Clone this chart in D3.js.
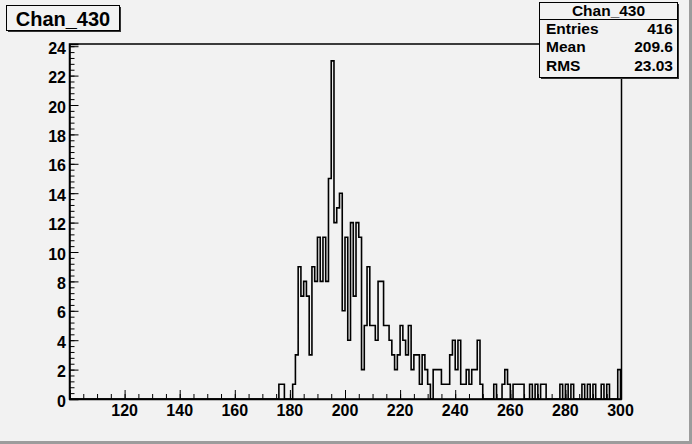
<!DOCTYPE html>
<html><head><meta charset="utf-8">
<script src="https://cdn.jsdelivr.net/npm/d3@7"></script>
<style>
html,body{margin:0;padding:0;background:#f2f2f2;}
svg{display:block;}
text{font-family:"Liberation Sans",Arial,Helvetica,sans-serif;font-weight:bold;fill:#000;}
</style></head>
<body><svg id="c" width="692" height="444"></svg>
<script>
// ---- data ----
const histName = "Chan_430";
const xDomain = [100, 300];
const firstBin = 174;           // low edge of first listed bin, bin width 1
const counts = [
  0,0,1,1,0,0,0,1,3,9,7,8,7,3,9,8,11,8,11,8,15,23,12,13,14,6,   // 174-199
  11,4,12,7,12,11,2,5,9,5,5,4,8,8,5,5,4,3,2,3,5,4,3,5,2,3,3,1,3,2,1,0,2,2,2,1,1,1,3,4,2,4,1,1,2,1,2,2,4,1, // 200-249
  0,0,0,0,1,0,0,1,2,1,0,1,1,1,1,0,0,1,0,1,0,1,1,0,0,0,0,0,1,0,1,0,1,0,0,0,1,0,1,0,1,0,0,1,0,1,0,0,0,2  // 250-299
];
const xLabels = [120,140,160,180,200,220,240,260,280,300];
const yLabels = [0,2,4,6,8,10,12,14,16,18,20,22,24];
const statLabels = ["Entries","Mean","RMS"];
const statValues = ["416","209.6","23.03"];

// ---- layout ----
const svg = d3.select("#c");
const W = 692, H = 444;
const L = 69.5, R = 620.5, T = 44, B = 399;
const yMax = d3.max(counts) * 1.05;
const x = d3.scaleLinear().domain(xDomain).range([L, R]);
const y = d3.scaleLinear().domain([0, yMax]).range([B, T]);

svg.append("rect").attr("width", W).attr("height", H).attr("fill", "#f2f2f2");
// canvas border
svg.append("rect").attr("x", W-3).attr("y", 0).attr("width", 3).attr("height", H).attr("fill", "#9c9c9c");
svg.append("rect").attr("x", 0).attr("y", H-3).attr("width", W).attr("height", 3).attr("fill", "#9c9c9c");

// frame
svg.append("rect").attr("x", L).attr("y", T).attr("width", x(300)+1-L).attr("height", B-T)
  .attr("fill", "none").attr("stroke", "#000").attr("stroke-width", 1.5);

// histogram
const pts = counts.map((c, i) => [firstBin + i, c]);
const last = firstBin + counts.length;
pts.push([last, counts[counts.length-1]]);
pts.unshift([xDomain[0], 0]);
pts.push([last, 0]);
const line = d3.line().x(d => x(d[0])).y(d => y(d[1])).curve(d3.curveStepAfter);
svg.append("path").attr("d", line(pts)).attr("fill", "none")
  .attr("stroke", "#000").attr("stroke-width", 1.6);

// x axis
const gx = svg.append("g").attr("transform", `translate(0,${B})`);
gx.call(d3.axisBottom(x).tickValues(d3.range(100, 300.01, 5)).tickSize(-5).tickFormat(""));
gx.call(g => g.select(".domain").remove());
const gx2 = svg.append("g").attr("transform", `translate(0,${B})`);
gx2.call(d3.axisBottom(x).tickValues(d3.range(100, 300.01, 20)).tickSize(-9).tickFormat(""));
gx2.select(".domain").attr("stroke-width", 1.5);
svg.selectAll(".tick line").attr("stroke", "#000");
svg.append("g").selectAll("text").data(xLabels).join("text")
  .attr("x", d => x(d)).attr("y", 416).attr("text-anchor", "middle")
  .attr("font-size", 16).text(d => d);

// y axis
const gy = svg.append("g").attr("transform", `translate(${L},0)`);
gy.call(d3.axisLeft(y).tickValues(d3.range(0, 24.01, 0.4)).tickSize(-5).tickFormat(""));
gy.call(g => g.select(".domain").remove());
const gy2 = svg.append("g").attr("transform", `translate(${L},0)`);
gy2.call(d3.axisLeft(y).tickValues(yLabels).tickSize(-9).tickFormat(""));
gy2.select(".domain").attr("stroke-width", 1.5);
svg.selectAll(".tick line").attr("stroke", "#000");
svg.append("g").selectAll("text").data(yLabels).join("text")
  .attr("x", 66).attr("y", d => y(d) + 7.5).attr("text-anchor", "end")
  .attr("font-size", 16).text(d => d);

// title box
svg.append("rect").attr("x", 8).attr("y", 7).attr("width", 113).attr("height", 25).attr("fill", "#333");
svg.append("rect").attr("x", 6.5).attr("y", 5.5).attr("width", 113).attr("height", 25)
  .attr("fill", "#f2f2f2").attr("stroke", "#000").attr("stroke-width", 1);
svg.append("text").attr("x", 63).attr("y", 25.5).attr("text-anchor", "middle")
  .attr("font-size", 20).text(histName);

// stats box
const sx = 539.5, sy = 2.5, sw = 138, sh = 75;
svg.append("rect").attr("x", sx+1.5).attr("y", sy+1.5).attr("width", sw).attr("height", sh).attr("fill", "#333");
svg.append("rect").attr("x", sx).attr("y", sy).attr("width", sw).attr("height", sh)
  .attr("fill", "#f2f2f2").attr("stroke", "#000").attr("stroke-width", 1);
svg.append("line").attr("x1", sx).attr("x2", sx+sw).attr("y1", 19.5).attr("y2", 19.5).attr("stroke", "#000");
svg.append("text").attr("x", sx + sw/2).attr("y", 16).attr("text-anchor", "middle")
  .attr("font-size", 15.5).text(histName);
statLabels.forEach((s, i) => {
  svg.append("text").attr("x", 546).attr("y", 34 + i*18.3).attr("font-size", 15.5).text(s);
  svg.append("text").attr("x", 673).attr("y", 34 + i*18.3).attr("text-anchor", "end")
    .attr("font-size", 15.5).text(statValues[i]);
});
</script></body></html>
